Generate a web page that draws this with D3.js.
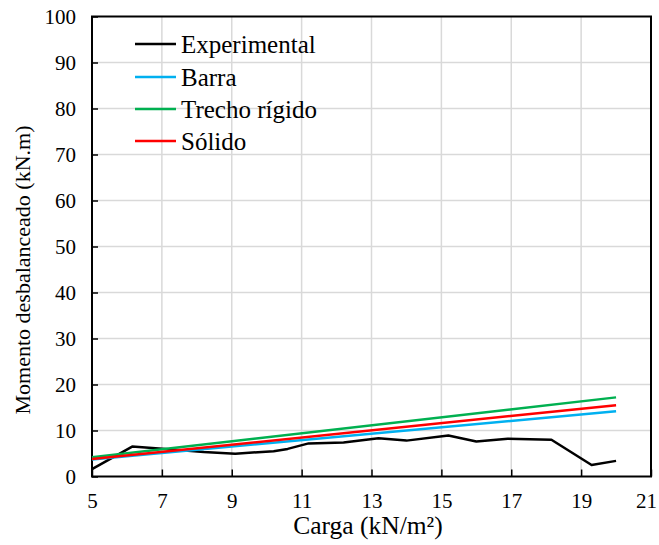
<!DOCTYPE html>
<html>
<head>
<meta charset="utf-8">
<script src="https://cdn.jsdelivr.net/npm/d3@7"></script>
<style>
  html, body { margin: 0; padding: 0; background: #fff; }
  svg { display: block; font-family: "Liberation Serif", "Times New Roman", serif; }
</style>
</head>
<body>
<svg id="chart" width="659" height="545"></svg>
<script>
// Load (kN/m²) vs. unbalanced moment (kN.m)
const expCarga = [5.0, 6.15, 7.2, 8.2, 9.1, 10.2, 10.6, 11.2, 12.2, 13.2, 14.0, 15.2, 16.0, 16.9, 18.15, 19.3, 20.0];
const expMomento = [1.6, 6.5, 5.9, 5.3, 4.95, 5.5, 6.0, 7.2, 7.4, 8.3, 7.8, 8.9, 7.6, 8.2, 8.0, 2.5, 3.4];

const modelCarga = [5.0, 20.0];
const barraMomento = [3.7, 14.2];
const trechoMomento = [4.2, 17.2];
const solidoMomento = [3.8, 15.5];

const xTicks = [5, 7, 9, 11, 13, 15, 17, 19, 21];
const yTicks = [0, 10, 20, 30, 40, 50, 60, 70, 80, 90, 100];

const seriesNames = ["Experimental", "Barra", "Trecho rígido", "Sólido"];
const seriesColors = ["#000000", "#00b0f0", "#00b050", "#ff0000"];

const svg = d3.select("#chart");
const plotL = 92, plotR = 651, plotT = 16.5, plotB = 476.5;

const x = d3.scaleLinear().domain([5, 21]).range([plotL, plotR]);
const y = d3.scaleLinear().domain([0, 100]).range([plotB, plotT]);

// gridlines
svg.append("g").selectAll("line")
  .data(xTicks.slice(1, -1)).join("line")
  .attr("x1", d => x(d)).attr("x2", d => x(d))
  .attr("y1", plotT).attr("y2", plotB)
  .attr("stroke", "#d9d9d9").attr("stroke-width", 1.5);
svg.append("g").selectAll("line")
  .data(yTicks.slice(1, -1)).join("line")
  .attr("x1", plotL).attr("x2", plotR)
  .attr("y1", d => y(d)).attr("y2", d => y(d))
  .attr("stroke", "#d9d9d9").attr("stroke-width", 1.5);

// axes with inward ticks
const xAxis = d3.axisBottom(x).tickValues(xTicks).tickSizeInner(-7).tickSizeOuter(0).tickPadding(17);
const yAxis = d3.axisLeft(y).tickValues(yTicks).tickSizeInner(-6).tickSizeOuter(0).tickPadding(16);

const gx = svg.append("g").attr("transform", `translate(0,${plotB})`).call(xAxis);
const gy = svg.append("g").attr("transform", `translate(${plotL},0)`).call(yAxis);
[gx, gy].forEach(g => {
  g.select(".domain").remove();
  g.selectAll(".tick line").attr("stroke", "#000").attr("stroke-width", 1.5);
  g.selectAll(".tick text").attr("fill", "#000").attr("font-size", 21)
    .attr("font-family", "Liberation Serif, Times New Roman, serif");
});
// keep the last category label inside the canvas
gx.selectAll(".tick text").filter(d => d === 21).attr("dx", -5);

// plot frame
svg.append("rect").attr("x", plotL).attr("y", plotT)
  .attr("width", plotR - plotL).attr("height", plotB - plotT)
  .attr("fill", "none").attr("stroke", "#000").attr("stroke-width", 2);

// series
const line = d3.line().x(d => x(d[0])).y(d => y(d[1]));
const seriesData = [
  d3.zip(expCarga, expMomento),
  d3.zip(modelCarga, barraMomento),
  d3.zip(modelCarga, trechoMomento),
  d3.zip(modelCarga, solidoMomento)
];
svg.append("g").selectAll("path")
  .data(seriesData).join("path")
  .attr("d", line)
  .attr("fill", "none")
  .attr("stroke", (d, i) => seriesColors[i])
  .attr("stroke-width", 2.5)
  .attr("stroke-linejoin", "round");

// legend
const legend = svg.append("g");
const rowY = [44, 77, 109, 141];
seriesNames.forEach((name, i) => {
  legend.append("line")
    .attr("x1", 135).attr("x2", 176)
    .attr("y1", rowY[i]).attr("y2", rowY[i])
    .attr("stroke", seriesColors[i]).attr("stroke-width", 2.5);
  legend.append("text")
    .attr("x", 181).attr("y", rowY[i] + 8.5)
    .attr("font-size", 25).attr("fill", "#000")
    .text(name);
});

// axis titles
svg.append("text")
  .attr("x", 368).attr("y", 534)
  .attr("text-anchor", "middle").attr("font-size", 25.5)
  .text("Carga (kN/m²)");
svg.append("text")
  .attr("transform", "translate(30,270) rotate(-90)")
  .attr("text-anchor", "middle").attr("font-size", 22)
  .text("Momento desbalanceado (kN.m)");
</script>
</body>
</html>
